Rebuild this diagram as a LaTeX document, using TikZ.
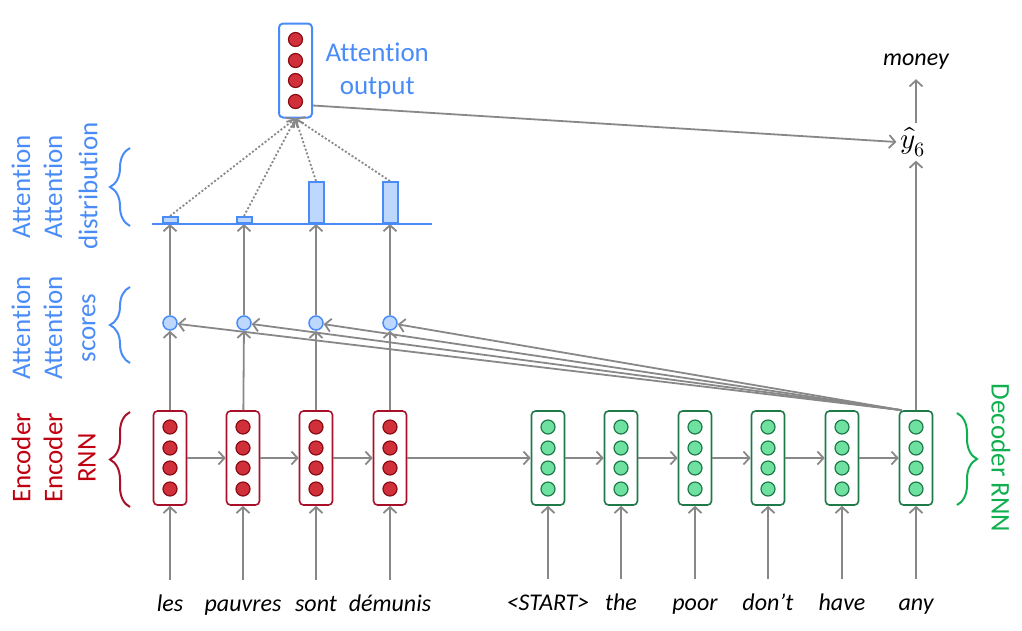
\documentclass[tikz,border=0pt]{standalone}
\usepackage{fontspec}
\usepackage{unicode-math}
\setmainfont{Carlito}[Ligatures=NoCommon]
\setmathfont{Latin Modern Math}
\usetikzlibrary{arrows.meta,decorations.pathreplacing,positioning}
\definecolor{attblue}{HTML}{4A8CF7}
\definecolor{barfill}{HTML}{BDD7FF}
\definecolor{encred}{HTML}{A8102A}
\definecolor{dotred}{HTML}{D0303A}
\definecolor{dotredline}{HTML}{8B0A14}
\definecolor{decgreen}{HTML}{1F7A4A}
\definecolor{dotgreen}{HTML}{6EE0A0}
\definecolor{txtgreen}{HTML}{10B050}
\definecolor{txtred}{HTML}{C00010}
\definecolor{arrgray}{HTML}{888888}
\tikzset{
  cell/.style={draw, rounded corners=4pt, line width=1.6pt, fill=white, minimum width=33pt, minimum height=94pt, inner sep=0pt},
  enccell/.style={cell, draw=encred},
  deccell/.style={cell, draw=decgreen},
  attcell/.style={cell, draw=attblue, line width=2pt},
  conn/.style={->, draw=arrgray, line width=1.8pt},
  word/.style={font=\fontsize{24}{28}\selectfont\itshape, anchor=base, text height=17pt, text depth=5pt, inner ysep=14pt},
  label/.style={font=\fontsize{27}{33}\selectfont},
  score/.style={circle, draw=attblue, fill=barfill, line width=1.5pt, minimum size=14pt, inner sep=0pt},
  bar/.style={draw=attblue, fill=barfill, line width=2pt, minimum width=15pt, inner sep=0pt, anchor=south},
  bracket/.style={decorate, decoration={brace, amplitude=20pt}, line width=2pt},
}
\newcommand{\celldots}[3]{%
  \foreach \dy in {-31,-10,10,31}
    \filldraw[fill=#2, draw=#3, line width=1.2pt] ([yshift=\dy pt]#1.center) circle (7pt);}

\begin{document}
\begin{tikzpicture}[x=1pt,y=-1pt,>={Straight Barb[length=6pt,width=13pt]}]
  \useasboundingbox (0,0) rectangle (1022,630);
  % encoder
  \foreach \x/\w [count=\i] in {170/les,243/pauvres,316/sont,390/démunis} {
    \node[enccell] (e\i) at (\x,458) {};
    \celldots{e\i}{dotred}{dotredline}
    \node[word] (w\i) at (\x,611) {\w};
    \draw[conn] (w\i.north) -- (e\i.south);
  }
  % decoder
  \foreach \x/\w [count=\i] in {548/<START>,621/the,695/poor,768/don’t,842/have,916/any} {
    \node[deccell] (d\i) at (\x,458) {};
    \celldots{d\i}{dotgreen}{decgreen}
    \node[word] (v\i) at (\x,610) {\w};
    \draw[conn] (v\i.north) -- (d\i.south);
  }
  \foreach \i/\j in {1/2,2/3,3/4} \draw[conn] (e\i) -- (e\j);
  \draw[conn] (e4) -- (d1);
  \foreach \i/\j in {1/2,2/3,3/4,4/5,5/6} \draw[conn] (d\i) -- (d\j);
  % scores and distribution
  \foreach \x/\h [count=\i] in {170/6,244/6,316/41,390/41} {
    \node[score] (s\i) at (\x,323) {};
    \node[bar, minimum height=\h pt] (b\i) at (\x,224) {};
    \draw[conn] (e\i) -- (s\i);
    \draw[conn] (s\i) -- (b\i.south);
  }
  \draw[attblue, line width=2pt] (152,224) -- (432,224);
  \foreach \i in {1,...,4} \draw[conn] ([xshift=3pt]d6.north west) -- (s\i);
  % attention output
  \node[attcell] (att) at (295.5,70.5) {};
  \celldots{att}{dotred}{dotredline}
  \node[label, attblue, align=center, right=9pt of att.east] (atttxt) {Attention\\output};
  \foreach \i in {1,...,4} \draw[conn, dash pattern=on 2pt off 2pt] (b\i.north) -- (att.south);
  \node[font=\fontsize{29}{34}\selectfont, inner sep=4pt] (yhat) at (913,142) {$\hat{y}_6$};
  \node[word, inner ysep=9pt] (out) at (916,65) {money};
  \draw[conn] ([yshift=-35pt]att.east) -- (yhat.west);
  \draw[conn] (d6.north) -- (d6.north |- yhat.south);
  \draw[conn] (d6.north |- yhat.north) -- (out.south);
  % side labels
  \node[label, attblue, rotate=90] (ad1) at (21,187) {Attention};
  \node[label, attblue, rotate=90] (ad2) at (53,187) {Attention};
  \node[label, attblue, rotate=90] (ad3) at (88,186) {distribution};
  \node[label, attblue, rotate=90] (as1) at (21,328) {Attention};
  \node[label, attblue, rotate=90] (as2) at (53,328) {Attention};
  \node[label, attblue, rotate=90] (as3) at (89,328) {scores};
  \node[label, txtred, rotate=90] (en1) at (21,458) {Encoder};
  \node[label, txtred, rotate=90] (en2) at (53,458) {Encoder};
  \node[label, txtred, rotate=90] (en3) at (87,458) {RNN};
  \node[label, txtgreen, rotate=-90] (de) at (1001,458) {Decoder RNN};
  \draw[bracket, attblue] (130,226) -- (130,148);
  \draw[bracket, attblue] (130,363) -- (130,287);
  \draw[bracket, encred] (130,507) -- (130,412);
  \draw[bracket, txtgreen] (957,413) -- (957,505);
\end{tikzpicture}
\end{document}
